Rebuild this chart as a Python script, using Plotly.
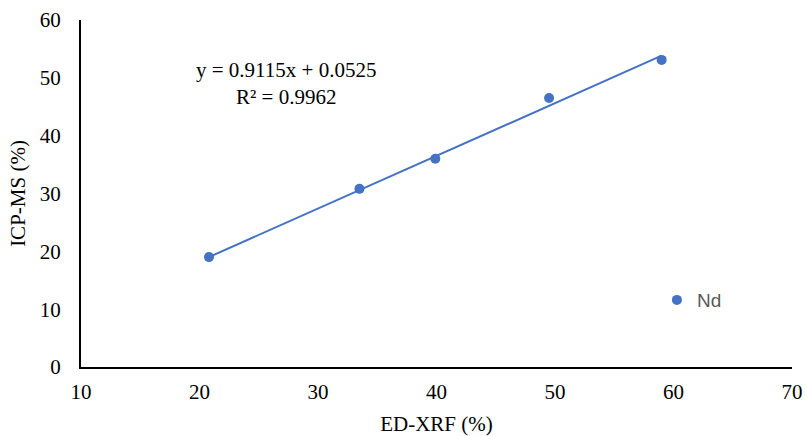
import numpy as np
import plotly.graph_objects as go

# Data
x_edxrf = [20.8, 33.5, 39.9, 49.5, 59.0]
y_icpms = [19.0, 30.8, 36.0, 46.5, 53.1]
series_name = "Nd"
slope = 0.9115
intercept = 0.0525
r2 = 0.9962
x_ticks = [10, 20, 30, 40, 50, 60, 70]
y_ticks = [0, 10, 20, 30, 40, 50, 60]

blue = "#4472C4"
serif = "Liberation Serif, Times New Roman, serif"
fs = 21

fig = go.Figure()

xl = np.array([min(x_edxrf), max(x_edxrf)])
fig.add_trace(go.Scatter(x=xl, y=slope * xl + intercept, mode="lines",
                         line=dict(color=blue, width=2), showlegend=False,
                         hoverinfo="skip"))
fig.add_trace(go.Scatter(x=x_edxrf, y=y_icpms, mode="markers", name=series_name,
                         marker=dict(color=blue, size=10)))

fig.add_annotation(x=27.3, y=49.1, xref="x", yref="y",
                   text=f"y = {slope}x + {intercept}<br>R² = {r2}",
                   showarrow=False, align="center",
                   font=dict(family=serif, size=fs, color="#000000"))

fig.update_layout(
    width=805, height=436,
    margin=dict(l=81, r=13, t=20, b=69),
    plot_bgcolor="white", paper_bgcolor="white",
    legend=dict(x=0.81, y=0.193, xanchor="left", yanchor="middle",
                font=dict(family="Liberation Sans, Arial, sans-serif", size=19, color="#595959"),
                bgcolor="rgba(0,0,0,0)"),
    xaxis=dict(range=[10, 70], tickvals=x_ticks, showgrid=False, zeroline=False,
               showline=True, linecolor="black", linewidth=2, automargin=False,
               ticks="", ticklabelstandoff=5,
               tickfont=dict(family=serif, size=fs, color="#000000"),
               title=dict(text="ED-XRF (%)", font=dict(family=serif, size=fs, color="#000000"),
                          standoff=14)),
    yaxis=dict(range=[0, 60], tickvals=y_ticks, showgrid=False, zeroline=False,
               showline=True, linecolor="black", linewidth=2, automargin=False,
               ticks="", ticklabelstandoff=14,
               tickfont=dict(family=serif, size=fs, color="#000000"),
               title=dict(text="ICP-MS (%)", font=dict(family=serif, size=fs, color="#000000"),
                          standoff=8)),
)

fig.write_html("out.html", config={"displayModeBar": False},
               post_script="document.body.style.margin='0';document.body.style.overflow='hidden';")
